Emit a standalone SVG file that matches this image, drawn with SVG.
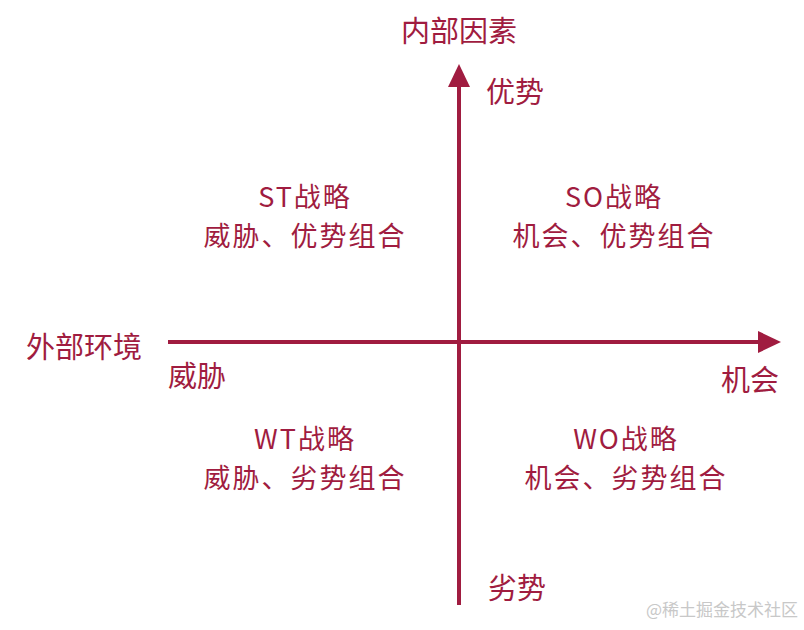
<svg xmlns="http://www.w3.org/2000/svg" width="804" height="630" viewBox="0 0 804 630">
<style>
text{font-family:"Noto Sans CJK SC","Liberation Sans",sans-serif;fill:#a01c40;font-size:29px;text-anchor:middle}
.q{font-size:27px;letter-spacing:2px}
.ax{stroke:#a01c40;stroke-width:4;fill:none}
.wm{fill:#c8c8c8;font-size:17px;text-anchor:start}
</style>
<rect width="804" height="630" fill="#fff"/>
<g id="connectors">
<line class="ax" x1="459" y1="80" x2="459" y2="605"/>
<polygon points="459,64 448,87 470,87" fill="#a01c40"/>
<line class="ax" x1="168" y1="342" x2="764" y2="342"/>
<polygon points="781,342 758,331 758,353" fill="#a01c40"/>
</g>
<g id="labels">
<text x="459" y="42">内部因素</text>
<text x="515" y="103">优势</text>
<text x="84" y="358">外部环境</text>
<text x="197" y="387">威胁</text>
<text x="750" y="391">机会</text>
<text x="517" y="599">劣势</text>
</g>
<g id="st"><text class="q" x="305" y="207">ST战略</text><text class="q" x="305" y="246">威胁、优势组合</text></g>
<g id="so"><text class="q" x="614" y="207">SO战略</text><text class="q" x="614" y="246">机会、优势组合</text></g>
<g id="wt"><text class="q" x="305" y="449">WT战略</text><text class="q" x="305" y="488">威胁、劣势组合</text></g>
<g id="wo"><text class="q" x="626" y="449">WO战略</text><text class="q" x="626" y="488">机会、劣势组合</text></g>
<text class="wm" x="646" y="616">@稀土掘金技术社区</text>
</svg>
